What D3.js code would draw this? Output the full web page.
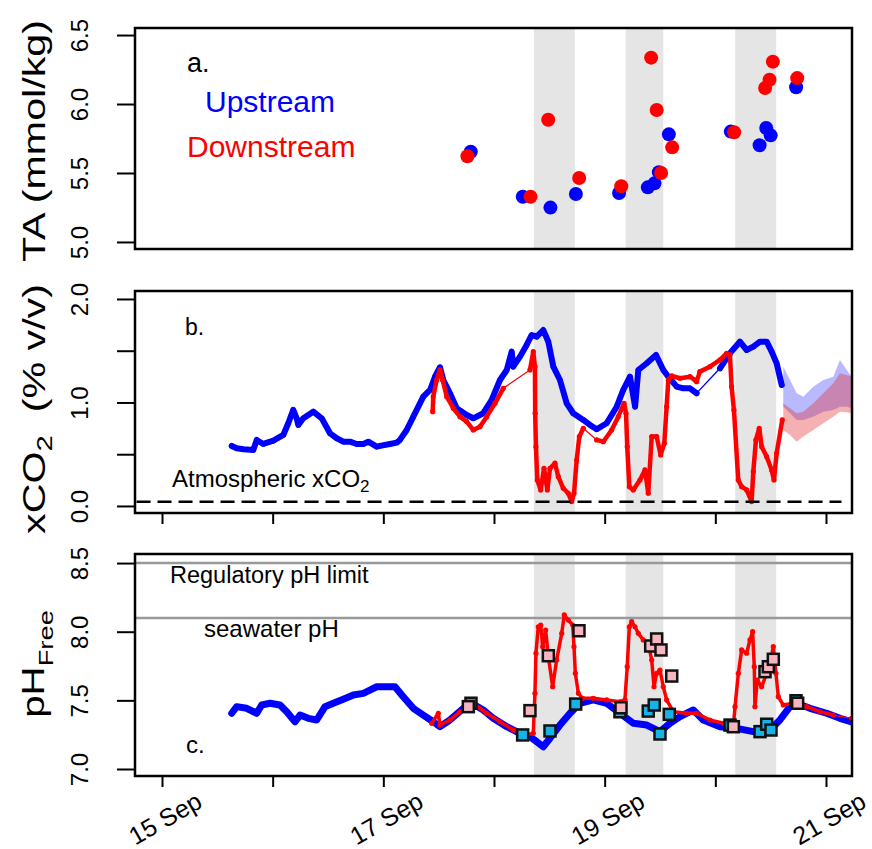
<!DOCTYPE html>
<html>
<head>
<meta charset="utf-8">
<script src="https://cdn.jsdelivr.net/npm/d3@7"></script>
<style>
  body { margin: 0; background: #fff; }
  svg text { font-family: "Liberation Sans", Arial, sans-serif; }
</style>
</head>
<body>
<svg id="chart" width="872" height="849"></svg>
<script>
// all times are fractional days of September
const dayTicks = [15, 16, 17, 18, 19, 20, 21];
const dayLabels = {15: '15 Sep', 17: '17 Sep', 19: '19 Sep', 21: '21 Sep'};
const daylight = [[18.36, 18.73], [19.19, 19.53], [20.18, 20.55]];

// a. total alkalinity (mmol/kg)
const taUp = [[17.79,5.654],[18.26,5.328],[18.51,5.249],[18.74,5.348],[19.13,5.355],[19.39,5.396],
  [19.45,5.425],[19.49,5.505],[19.58,5.780],[20.14,5.800],[20.40,5.701],[20.46,5.826],[20.50,5.773],[20.73,6.121]];
const taDown = [[17.76,5.621],[18.33,5.328],[18.49,5.886],[18.77,5.464],[19.15,5.404],[19.42,6.336],
  [19.47,5.957],[19.51,5.500],[19.61,5.686],[20.17,5.795],[20.45,6.116],[20.49,6.176],[20.52,6.307],[20.74,6.188]];

// b. xCO2 (% v/v)
const co2Up = [[15.630,0.580],[15.675,0.557],[15.735,0.548],[15.825,0.541],[15.856,0.638],[15.915,0.599],[16.006,0.631],
  [16.096,0.686],[16.141,0.799],[16.186,0.928],[16.217,0.847],[16.232,0.783],[16.277,0.847],[16.367,0.911],
  [16.443,0.847],[16.518,0.702],[16.579,0.654],[16.638,0.621],[16.699,0.621],[16.759,0.599],[16.819,0.599],
  [16.864,0.621],[16.940,0.573],[16.970,0.580],[17.060,0.599],[17.121,0.612],
  [17.150,0.638],[17.211,0.734],[17.271,0.863],[17.361,1.056],[17.422,1.121],[17.467,1.249],[17.512,1.340],
  [17.542,1.217],[17.602,1.089],[17.663,0.944],[17.753,0.879],[17.813,0.847],[17.903,0.896],[17.979,1.024],
  [18.054,1.217],[18.115,1.314],[18.160,1.491],[18.174,1.346],[18.235,1.443],[18.295,1.556],[18.341,1.652],
  [18.386,1.636],[18.445,1.700],[18.491,1.587],[18.536,1.346],[18.596,1.217],[18.657,0.992],[18.716,0.896],
  [18.807,0.831],[18.867,0.783],[18.928,0.741],[19.018,0.799],[19.109,0.959],[19.168,1.121],[19.229,1.249],[19.275,0.959],
  [19.304,1.314],[19.380,1.379],[19.464,1.459],[19.530,1.314],[19.575,1.249],[19.651,1.153],[19.710,1.137],
  [19.771,1.137],[19.831,1.089],[20.042,1.330],[20.132,1.475],[20.222,1.587],[20.283,1.507],[20.343,1.539],[20.403,1.587],
  [20.464,1.587],[20.509,1.491],[20.554,1.379],[20.600,1.169]];
const co2Down = [[17.446,0.911],[17.451,1.056],[17.482,1.217],[17.512,1.314],[17.536,1.217],[17.573,1.056],
  [17.632,0.944],[17.693,0.863],[17.753,0.815],[17.813,0.734],[17.873,0.766],[17.934,0.863],[18.009,0.992],
  [18.084,1.137],[18.325,1.314],[18.355,1.491],[18.370,1.346],[18.372,0.896],[18.379,0.573],[18.391,0.251],
  [18.422,0.155],[18.452,0.364],[18.482,0.155],[18.506,0.364],[18.551,0.413],[18.581,0.283],[18.626,0.171],
  [18.671,0.123],[18.702,0.042],[18.723,0.123],[18.747,0.444],[18.771,0.670],[18.807,0.751],[18.928,0.638],
  [18.988,0.621],[19.063,0.734],[19.123,0.863],[19.175,0.992],[19.193,0.896],[19.204,0.573],[19.223,0.186],
  [19.259,0.155],[19.319,0.251],[19.364,0.348],[19.394,0.123],[19.425,0.670],[19.470,0.670],[19.506,0.493],
  [19.539,0.606],[19.560,0.959],[19.575,1.217],[19.606,1.256],[19.681,1.234],[19.771,1.249],[19.816,1.217],
  [19.831,1.201],[19.860,1.298],[19.951,1.346],[20.042,1.411],[20.102,1.475],[20.132,1.459],[20.147,1.153],
  [20.168,0.928],[20.207,0.251],[20.238,0.186],[20.283,0.155],[20.328,0.042],[20.343,0.331],[20.367,0.638],
  [20.397,0.751],[20.419,0.573],[20.464,0.476],[20.509,0.348],[20.530,0.251],[20.554,0.509],[20.605,0.831]];
// forecast envelopes after the sensors stop
const envTime = [20.614, 20.675, 20.735, 20.795, 20.885, 20.976, 21.066, 21.126, 21.187, 21.232];
const envUpLo = [0.959, 0.896, 0.831, 0.831, 0.863, 0.911, 0.928, 0.959, 0.959, 0.944];
const envUpHi = [1.346, 1.217, 1.089, 1.056, 1.153, 1.217, 1.249, 1.411, 1.314, 1.249];
const envDnLo = [0.734, 0.686, 0.621, 0.670, 0.734, 0.799, 0.863, 0.911, 0.905, 0.896];
const envDnHi = [0.992, 0.944, 0.896, 0.911, 0.992, 1.089, 1.185, 1.282, 1.265, 1.249];
const atmCO2 = 0.04;

// c. pH (free scale)
const phUp = [[15.630,7.406],[15.675,7.454],[15.765,7.442],[15.856,7.406],[15.901,7.466],[15.976,7.479],
  [16.066,7.466],[16.127,7.417],[16.202,7.344],[16.247,7.393],[16.322,7.369],[16.398,7.357],[16.473,7.454],
  [16.548,7.479],[16.638,7.508],[16.729,7.539],[16.819,7.551],[16.879,7.575],[16.940,7.599],[17.030,7.599],
  [17.105,7.599],[17.180,7.527],[17.271,7.442],[17.361,7.393],[17.451,7.344],[17.512,7.308],[17.602,7.357],
  [17.723,7.442],[17.798,7.479],[17.903,7.430],[17.994,7.369],[18.115,7.308],[18.235,7.260],[18.325,7.235],
  [18.386,7.199],[18.445,7.162],[18.506,7.224],[18.596,7.320],[18.687,7.406],[18.777,7.479],[18.897,7.503],
  [19.018,7.479],[19.138,7.406],[19.259,7.333],[19.380,7.320],[19.500,7.272],[19.590,7.333],[19.681,7.381],
  [19.801,7.430],[19.891,7.357],[20.042,7.308],[20.193,7.296],[20.343,7.272],[20.494,7.284],[20.584,7.357],
  [20.675,7.454],[20.735,7.479],[20.855,7.442],[21.006,7.406],[21.126,7.369],[21.232,7.344]];
const phDown = [[17.437,7.333],[17.497,7.406],[17.512,7.320],[17.602,7.357],[17.693,7.417],[17.813,7.479],
  [17.934,7.406],[18.054,7.344],[18.174,7.284],[18.295,7.248],[18.355,7.260],[18.370,7.551],[18.379,7.843],
  [18.400,8.036],[18.422,8.049],[18.440,7.891],[18.467,8.012],[18.491,7.818],[18.530,7.599],[18.566,7.794],
  [18.612,7.988],[18.635,8.122],[18.671,8.085],[18.711,8.049],[18.723,7.891],[18.735,7.697],[18.762,7.551],
  [18.801,7.515],[18.897,7.515],[19.018,7.503],[19.138,7.490],[19.183,7.503],[19.204,7.745],[19.223,8.036],
  [19.244,8.073],[19.274,8.036],[19.304,7.988],[19.349,7.940],[19.394,7.916],[19.425,7.794],[19.446,7.599],
  [19.470,7.697],[19.500,7.721],[19.530,7.599],[19.560,7.503],[19.620,7.417],[19.741,7.406],[19.831,7.406],
  [19.951,7.357],[20.072,7.333],[20.163,7.308],[20.178,7.454],[20.208,7.697],[20.238,7.867],[20.283,7.843],
  [20.313,7.940],[20.337,8.000],[20.352,7.745],[20.358,7.454],[20.379,7.648],[20.419,7.599],[20.464,7.697],
  [20.494,7.770],[20.524,7.891],[20.548,7.697],[20.569,7.527],[20.614,7.466],[20.705,7.479],[20.825,7.454],
  [20.946,7.417],[21.066,7.393],[21.232,7.369]];
const phSampleUp = [[17.792,7.479],[18.259,7.248],[18.506,7.277],[18.738,7.473],[19.138,7.417],[19.394,7.422],
  [19.448,7.466],[19.500,7.255],[19.584,7.398],[20.133,7.320],[20.404,7.272],[20.464,7.326],[20.503,7.284],[20.729,7.497]];
const phSampleDown = [[17.768,7.454],[18.325,7.425],[18.491,7.825],[18.768,8.007],[19.148,7.446],[19.416,7.896],
  [19.470,7.947],[19.509,7.867],[19.606,7.677],[20.163,7.308],[20.449,7.709],[20.479,7.745],[20.524,7.799],[20.744,7.479]];
const phRegulatory = 8.5;
const phSeawater = 8.1;

const BLUE = '#0000ff', RED = '#ff0000';
const svg = d3.select('#chart');
const left = 135, right = 852;

const x = d3.scaleLinear().domain([14.756, 21.235]).range([left, right]);

function makePanel(id, top, bottom, yDomain) {
  let p = {top: top, bottom: bottom};
  p.y = d3.scaleLinear().domain(yDomain).range([bottom, top]);
  svg.append('clipPath').attr('id', 'clip-' + id)
    .append('rect').attr('x', left).attr('y', top).attr('width', right - left).attr('height', bottom - top);
  p.g = svg.append('g').attr('clip-path', `url(#clip-${id})`);
  // daylight shading
  p.g.selectAll('rect.day').data(daylight).join('rect')
    .attr('class', 'day')
    .attr('x', d => x(d[0])).attr('width', d => x(d[1]) - x(d[0]))
    .attr('y', top).attr('height', bottom - top)
    .attr('fill', '#e5e5e5');
  return p;
}

function yAxis(p, ticks, labelled) {
  let ax = svg.append('g').attr('transform', `translate(${left},0)`)
    .call(d3.axisLeft(p.y).tickValues(ticks).tickSize(18).tickFormat(d => labelled.includes(d) ? d.toFixed(1) : ''));
  ax.select('.domain').remove();
  ax.selectAll('.tick line').attr('stroke-width', 2);
  ax.selectAll('.tick text')
    .attr('x', null).attr('dy', null)
    .attr('text-anchor', 'middle')
    .attr('transform', 'translate(-47,0) rotate(-90)')
    .attr('font-size', 24).attr('font-family', null).attr('fill', '#000');
}

function xAxis(p, withLabels) {
  let ax = svg.append('g').attr('transform', `translate(0,${p.bottom})`)
    .call(d3.axisBottom(x).tickValues(dayTicks).tickSize(11).tickFormat(d => withLabels ? (dayLabels[d] || '') : ''));
  ax.select('.domain').remove();
  ax.selectAll('.tick line').attr('stroke-width', 2);
  ax.selectAll('.tick text')
    .attr('y', null).attr('dy', null)
    .attr('text-anchor', 'middle')
    .attr('transform', 'translate(7,50) rotate(-30)')
    .attr('font-size', 25).attr('font-family', null).attr('fill', '#000');
}

function frame(p) {
  svg.append('rect').attr('x', left).attr('y', p.top)
    .attr('width', right - left).attr('height', p.bottom - p.top)
    .attr('fill', 'none').attr('stroke', '#000').attr('stroke-width', 2.5);
}

// dense sensor stretches look like a thick band of points, gaps are a thin joining line
function series(p, pts, color, thick, gap) {
  let line = d3.line().x(d => x(d[0])).y(d => p.y(d[1]));
  p.g.append('path').datum(pts).attr('d', line)
    .attr('fill', 'none').attr('stroke', color).attr('stroke-width', 1.3);
  let runs = [], cur = [pts[0]];
  for (let i = 1; i < pts.length; i++) {
    if (pts[i][0] - pts[i - 1][0] < gap) cur.push(pts[i]);
    else { runs.push(cur); cur = [pts[i]]; }
  }
  runs.push(cur);
  runs.filter(r => r.length > 1).forEach(r => {
    p.g.append('path').datum(r).attr('d', line)
      .attr('fill', 'none').attr('stroke', color).attr('stroke-width', thick)
      .attr('stroke-linejoin', 'round').attr('stroke-linecap', 'round');
  });
  p.g.append('g').selectAll('circle').data(pts).join('circle')
    .attr('cx', d => x(d[0])).attr('cy', d => p.y(d[1])).attr('r', 2.6).attr('fill', color);
}

function label(txt, xx, yy, size, color) {
  return svg.append('text').attr('x', xx).attr('y', yy)
    .attr('font-size', size).attr('fill', color || '#000').text(txt);
}

// ---- panel a
const pa = makePanel('a', 28, 249, [4.949, 6.551]);
pa.g.selectAll('circle.up').data(taUp).join('circle').attr('class', 'up')
  .attr('cx', d => x(d[0])).attr('cy', d => pa.y(d[1])).attr('r', 7).attr('fill', BLUE);
pa.g.selectAll('circle.dn').data(taDown).join('circle').attr('class', 'dn')
  .attr('cx', d => x(d[0])).attr('cy', d => pa.y(d[1])).attr('r', 7).attr('fill', RED);
yAxis(pa, [5.0, 5.5, 6.0, 6.5], [5.0, 5.5, 6.0, 6.5]);
frame(pa);
label('a.', 187, 72, 27);
label('Upstream', 205, 112, 30, BLUE);
label('Downstream', 187, 157, 30, RED);

// ---- panel b
const pb = makePanel('b', 291, 513, [-0.068, 2.077]);
let envArea = (lo, hi) => d3.area().x((d, i) => x(envTime[i])).y0((d, i) => pb.y(lo[i])).y1((d, i) => pb.y(hi[i]));
pb.g.append('path').datum(envTime).attr('d', envArea(envUpLo, envUpHi)).attr('fill', 'rgba(70,70,255,0.38)');
pb.g.append('path').datum(envTime).attr('d', envArea(envDnLo, envDnHi)).attr('fill', 'rgba(230,50,50,0.38)');
series(pb, co2Up, BLUE, 6, 0.1);
series(pb, co2Down, RED, 4.5, 0.1);
pb.g.append('line')
  .attr('x1', x(14.77)).attr('x2', x(21.14))
  .attr('y1', pb.y(atmCO2)).attr('y2', pb.y(atmCO2))
  .attr('stroke', '#000').attr('stroke-width', 2.5).attr('stroke-dasharray', '14,7');
yAxis(pb, [0, 0.5, 1.0, 1.5, 2.0], [0, 1.0, 2.0]);
xAxis(pb, false);
frame(pb);
label('b.', 185, 335, 23);
let atm = label('Atmospheric xCO', 172, 487, 24);
atm.append('tspan').attr('font-size', 17).attr('dy', 5).text('2');

// ---- panel c
const pc = makePanel('c', 554, 776, [6.949, 8.566]);
[phRegulatory, phSeawater].forEach(v => {
  pc.g.append('line').attr('x1', left).attr('x2', right)
    .attr('y1', pc.y(v)).attr('y2', pc.y(v))
    .attr('stroke', '#999').attr('stroke-width', 2.5);
});
series(pc, phUp, BLUE, 7, 0.16);
series(pc, phDown, RED, 3.5, 0.16);
const sq = 11;
pc.g.selectAll('rect.up').data(phSampleUp).join('rect').attr('class', 'up')
  .attr('x', d => x(d[0]) - sq / 2).attr('y', d => pc.y(d[1]) - sq / 2)
  .attr('width', sq).attr('height', sq)
  .attr('fill', '#14b4e8').attr('stroke', '#111').attr('stroke-width', 2.5);
pc.g.selectAll('rect.dn').data(phSampleDown).join('rect').attr('class', 'dn')
  .attr('x', d => x(d[0]) - sq / 2).attr('y', d => pc.y(d[1]) - sq / 2)
  .attr('width', sq).attr('height', sq)
  .attr('fill', '#f7b5c0').attr('stroke', '#111').attr('stroke-width', 2.5);
yAxis(pc, [7.0, 7.5, 8.0, 8.5], [7.0, 7.5, 8.0, 8.5]);
xAxis(pc, true);
frame(pc);
label('c.', 186, 753, 24);
label('Regulatory pH limit', 170, 583, 23.5);
label('seawater pH', 204, 637, 24);

// ---- y axis titles (stretched along their length as in the original)
svg.append('text').attr('transform', 'translate(45,141) rotate(-90) scale(1.33,1)')
  .attr('text-anchor', 'middle').attr('font-size', 31).text('TA (mmol/kg)');
let tco2 = svg.append('text').attr('transform', 'translate(45,409) rotate(-90) scale(1.33,1)')
  .attr('text-anchor', 'middle').attr('font-size', 31);
tco2.append('tspan').text('xCO');
tco2.append('tspan').attr('font-size', 22).attr('dy', 7).text('2');
tco2.append('tspan').attr('dy', -7).text('\u00a0\u00a0(% v/v)');
let tph = svg.append('text').attr('transform', 'translate(44,664) rotate(-90) scale(1.3,1)')
  .attr('text-anchor', 'middle').attr('font-size', 31);
tph.append('tspan').text('pH');
tph.append('tspan').attr('font-size', 21).attr('dy', 9).text('Free');
</script>
</body>
</html>
